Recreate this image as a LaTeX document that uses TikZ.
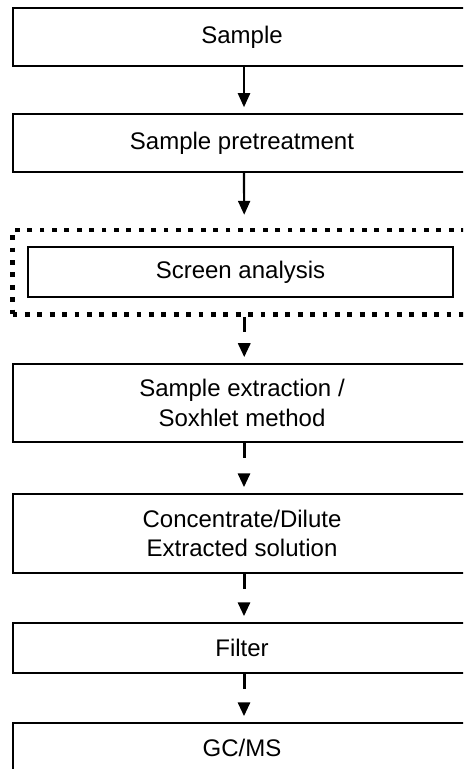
\documentclass[tikz,border=0pt]{standalone}
\usepackage{fontspec}
\setmainfont{Liberation Sans}
\usetikzlibrary{arrows.meta,positioning}

\begin{document}
\begin{tikzpicture}[x=0.5pt, y=-0.5pt,
    every node/.style={font=\fontsize{12}{14.85}\selectfont, align=center},
    kutu/.style={draw, line width=0.75pt, minimum width=229pt, inner sep=0pt},
    cerceve/.style={draw, line width=2.4pt, dash pattern=on 2.4pt off 3.8pt,
        minimum width=231.75pt, minimum height=42.25pt, inner sep=0pt},
    ok/.style={-{Triangle[length=7pt,width=6pt]}, line width=1.1pt},
    kesikok/.style={ok, line width=1.5pt, dash pattern=on 7.5pt off 30pt}]
                            % Sayfa sinirlari (sag ve alt kenar kesik)
                            \useasboundingbox (0,0) rectangle (463,769);
                            \clip (0,0) rectangle (463,769);

                            % Adimlar
                            \node[kutu, minimum height=29pt] (sample) at (242,37) {Sample};
                            \node[kutu, minimum height=29pt] (pretreat) at (242,143) {Sample pretreatment};
                            \node[kutu, minimum width=212.5pt, minimum height=25pt] (screen) at (240.5,272) {Screen analysis};
                            % Noktali cerceve
                            \node[cerceve] (frame) at (244.25,272.25) {};
                            \node[kutu, minimum height=39pt] (extract) at (242,403) {Sample extraction /\\Soxhlet method};
                            \node[kutu, minimum height=39.5pt] (concen) at (242,533.5) {Concentrate/Dilute\\Extracted solution};
                            \node[kutu, minimum height=25pt] (filter) at (242,648) {Filter};
                            \node[kutu, minimum height=25pt] (gcms) at (242,748) {GC/MS};

                            % Oklar: ilk ikisi duz, digerleri kesik
                            \draw[ok, shorten >=3pt] ([xshift=1pt]sample.south) -- ([xshift=1pt]pretreat.north);
                            \draw[ok, shorten >=6.4pt] ([xshift=1pt]pretreat.south) -- (frame.north);
                            \draw[kesikok, shorten >=3pt] (frame.south) -- (frame.south |- extract.north);
                            \draw[kesikok, shorten >=3pt] ([xshift=1pt]extract.south) -- ([xshift=1pt]concen.north);
                            \draw[kesikok, shorten >=3pt] ([xshift=1pt]concen.south) -- ([xshift=1pt]filter.north);
                            \draw[kesikok, shorten >=3pt] ([xshift=1pt]filter.south) -- ([xshift=1pt]gcms.north);
                        \end{tikzpicture}
\end{document}
